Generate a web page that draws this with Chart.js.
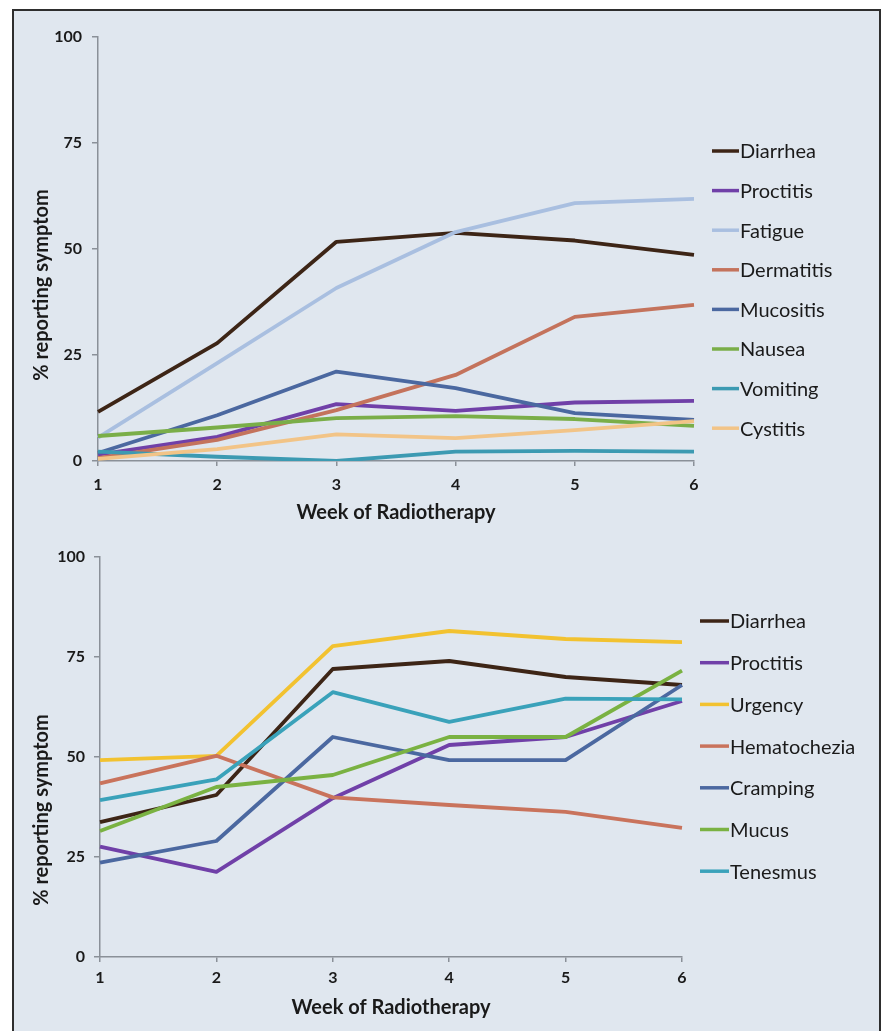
<!DOCTYPE html>
<html>
<head>
<meta charset="utf-8">
<script src="https://cdn.jsdelivr.net/npm/chart.js@4.4.0/dist/chart.umd.min.js"></script>
<style>
  body { margin: 0; background: #ffffff; width: 885px; height: 1031px; overflow: hidden; position: relative; }
  #frame { position: absolute; left: 12px; top: 9px; width: 869px; height: 1040px; box-sizing: border-box;
           border: 2.5px solid #2e2e2e; background: #e0e7ef; }
  canvas { position: absolute; left: 14px; }
  #topChart { top: 11px; }
  #bottomChart { top: 536px; }
</style>
</head>
<body>
<div id="frame"></div>
<canvas id="topChart" width="866" height="525"></canvas>
<canvas id="bottomChart" width="866" height="495"></canvas>
<script>
const weeks = ['1', '2', '3', '4', '5', '6'];
const yTicks = [0, 25, 50, 75, 100];

// upper panel (% reporting symptom)
const topNames = ['Diarrhea', 'Proctitis', 'Fatigue', 'Dermatitis', 'Mucositis', 'Nausea', 'Vomiting', 'Cystitis'];
const diarrheaTop = [11.6, 27.8, 51.7, 53.8, 52.0, 48.6];
const proctitisTop = [1.5, 5.7, 13.4, 11.8, 13.8, 14.2];
const fatigueTop = [5.5, 23.1, 40.8, 54.0, 60.8, 61.8];
const dermatitisTop = [0.7, 5.0, 12.0, 20.3, 34.0, 36.8];
const mucositisTop = [1.9, 10.8, 21.1, 17.2, 11.3, 9.7];
const nauseaTop = [5.9, 7.9, 10.1, 10.6, 9.9, 8.3];
const vomitingTop = [2.2, 1.0, 0.0, 2.2, 2.4, 2.2];
const cystitisTop = [0.5, 2.8, 6.3, 5.4, 7.3, 9.4];

// lower panel
const bottomNames = ['Diarrhea', 'Proctitis', 'Urgency', 'Hematochezia', 'Cramping', 'Mucus', 'Tenesmus'];
const diarrheaBottom = [33.7, 40.5, 72.0, 74.0, 70.0, 68.0];
const proctitisBottom = [27.6, 21.3, 39.7, 53.0, 55.0, 64.0];
const urgencyBottom = [49.2, 50.3, 77.7, 81.5, 79.5, 78.7];
const hematocheziaBottom = [43.4, 50.3, 39.9, 38.0, 36.3, 32.3];
const crampingBottom = [23.6, 29.0, 55.0, 49.2, 49.2, 68.0];
const mucusBottom = [31.5, 42.5, 45.5, 55.0, 55.0, 71.6];
const tenesmusBottom = [39.2, 44.4, 66.2, 58.8, 64.6, 64.4];

const topColors = ['#3d2516', '#7040a8', '#a9bfe0', '#c4735c', '#4b68a0', '#7aae48', '#3c9ab2', '#f2c487'];
const bottomColors = ['#3d2516', '#7040a8', '#f2c230', '#c9735c', '#4b68a0', '#7ab242', '#3aa2ba'];

const FONT = 'Lato, "Open Sans", sans-serif';
const INK = '#1a1a1a';
const AXIS = '#8a9098';

// legend drawn to the right, line sample + name (Excel style)
const sideLegend = {
  id: 'sideLegend',
  afterDraw(chart, args, opts) {
    const ctx = chart.ctx;
    ctx.save();
    ctx.font = opts.fontSize + 'px ' + FONT;
    ctx.textBaseline = 'middle';
    ctx.fillStyle = INK;
    chart.data.datasets.forEach((ds, i) => {
      const y = opts.y + i * opts.step;
      ctx.strokeStyle = ds.borderColor;
      ctx.lineWidth = 3.5;
      ctx.beginPath();
      ctx.moveTo(opts.x, y);
      ctx.lineTo(opts.x + opts.line, y);
      ctx.stroke();
      ctx.fillText(ds.label, opts.x + opts.line + 1, y + 1);
    });
    ctx.restore();
  }
};

const yTitle = {
  id: 'yTitle',
  afterDraw(chart, args, opts) {
    const ctx = chart.ctx;
    ctx.save();
    ctx.translate(opts.x, opts.y);
    ctx.rotate(-Math.PI / 2);
    ctx.font = 'bold 20px ' + FONT;
    ctx.fillStyle = INK;
    ctx.textAlign = 'center';
    ctx.textBaseline = 'middle';
    ctx.fillText(opts.text, 0, 0);
    ctx.restore();
  }
};

function makeChart(id, names, series, colors, cfg) {
  const n = series.length;
  return new Chart(document.getElementById(id), {
    type: 'line',
    data: {
      labels: weeks,
      datasets: series.map((vals, i) => ({
        label: names[i],
        data: vals,
        borderColor: colors[i],
        backgroundColor: colors[i],
        borderWidth: 3.8,
        pointRadius: 0,
        tension: 0,
        borderJoinStyle: 'round',
        order: n - i
      }))
    },
    options: {
      responsive: false,
      animation: false,
      layout: { padding: { left: 0, top: cfg.top, right: cfg.right, bottom: 0 } },
      plugins: {
        legend: { display: false },
        tooltip: { enabled: false },
        sideLegend: cfg.legend,
        yTitle: cfg.yTitle
      },
      scales: {
        x: {
          afterFit: s => { s.height = cfg.xHeight; },
          grid: { drawOnChartArea: false, tickLength: 5, color: AXIS, lineWidth: 1.5 },
          border: { color: AXIS, width: 1.5 },
          ticks: { color: INK, font: { family: FONT, size: 16, weight: 'bold' }, padding: cfg.xPad, maxRotation: 0 },
          title: { display: true, text: 'Week of Radiotherapy', color: INK,
                   font: { family: FONT, size: 20, weight: 'bold' }, padding: { top: 0, bottom: 11 } }
        },
        y: {
          min: 0, max: 100,
          afterFit: s => { s.width = cfg.yWidth; },
          afterBuildTicks: s => { s.ticks = yTicks.map(v => ({ value: v })); },
          grid: { drawOnChartArea: false, tickLength: 6, color: AXIS, lineWidth: 1.5 },
          border: { color: AXIS, width: 1.5 },
          ticks: { color: INK, font: { family: FONT, size: 16, weight: 'bold' }, padding: cfg.yPad }
        }
      }
    },
    plugins: [sideLegend, yTitle]
  });
}

makeChart('topChart', topNames,
  [diarrheaTop, proctitisTop, fatigueTop, dermatitisTop, mucositisTop, nauseaTop, vomitingTop, cystitisTop],
  topColors, {
    top: 26, right: 186, xHeight: 75, yWidth: 84, xPad: 9, yPad: 10,
    legend: { x: 698, y: 140, step: 39.6, line: 27, fontSize: 20 },
    yTitle: { x: 28, y: 274, text: '% reporting symptom' }
  });

makeChart('bottomChart', bottomNames,
  [diarrheaBottom, proctitisBottom, urgencyBottom, hematocheziaBottom, crampingBottom, mucusBottom, tenesmusBottom],
  bottomColors, {
    top: 21, right: 198, xHeight: 74, yWidth: 86, xPad: 6, yPad: 9,
    legend: { x: 686, y: 85, step: 41.7, line: 29, fontSize: 20 },
    yTitle: { x: 28, y: 274, text: '% reporting symptom' }
  });
</script>
</body>
</html>
